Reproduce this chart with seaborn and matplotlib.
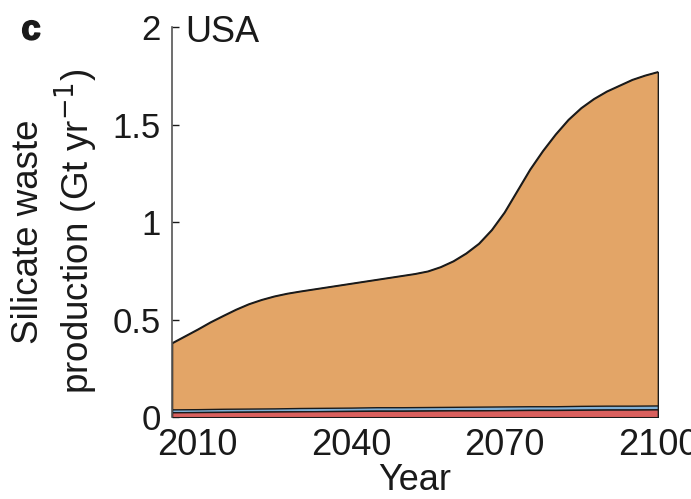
import numpy as np
import pandas as pd
import matplotlib
matplotlib.use("Agg")
import matplotlib.pyplot as plt
import matplotlib.patheffects as pe
import seaborn as sns


# top of the stack (total silicate waste, Gt/yr), read every 2.5 years
TOTAL_YEARS = [2005, 2007.5, 2010, 2012.5, 2015, 2017.5, 2020, 2022.5, 2025, 2027.5,
               2030, 2032.5, 2035, 2037.5, 2040, 2042.5, 2045, 2047.5, 2050, 2052.5,
               2055, 2057.5, 2060, 2062.5, 2065, 2067.5, 2070, 2072.5, 2075, 2077.5,
               2080, 2082.5, 2085, 2087.5, 2090, 2092.5, 2095, 2097.5, 2100]
TOTAL_WASTE = [0.38, 0.415, 0.45, 0.487, 0.52, 0.552, 0.58, 0.602, 0.62, 0.634,
               0.645, 0.655, 0.665, 0.675, 0.685, 0.695, 0.705, 0.715, 0.725, 0.735,
               0.748, 0.77, 0.80, 0.84, 0.89, 0.96, 1.05, 1.16, 1.27, 1.365,
               1.45, 1.525, 1.585, 1.632, 1.67, 1.70, 1.73, 1.752, 1.77]

# thin lower layers, read every 5 years
LAYER_YEARS = [2005, 2010, 2015, 2020, 2025, 2030, 2035, 2040, 2045, 2050,
               2055, 2060, 2065, 2070, 2075, 2080, 2085, 2090, 2095, 2100]
RED_LAYER = [0.025, 0.026, 0.027, 0.028, 0.029, 0.030, 0.031, 0.032, 0.033, 0.033,
             0.034, 0.035, 0.035, 0.036, 0.037, 0.037, 0.038, 0.039, 0.039, 0.040]
BLUE_LAYER = [0.015, 0.015, 0.016, 0.016, 0.016, 0.017, 0.017, 0.017, 0.018, 0.018,
              0.018, 0.018, 0.019, 0.019, 0.019, 0.019, 0.020, 0.020, 0.020, 0.020]

X_TICKS = [2010, 2040, 2070, 2100]
Y_TICKS = [0, 0.5, 1, 1.5, 2]
Y_TICK_LABELS = ["0", "0.5", "1", "1.5", "2"]

ORANGE = "#E3A567"
RED = "#D9605E"
BLUE = "#7FB0D6"
EDGE = "#1a1a1a"
TEXT_COLOR = "#1a1a1a"


total = pd.DataFrame({"year": TOTAL_YEARS, "total": TOTAL_WASTE})
layers = pd.DataFrame({"year": LAYER_YEARS, "red": RED_LAYER, "blue": BLUE_LAYER})
layers["red_blue"] = layers["red"] + layers["blue"]

sns.set_theme(style="ticks")
plt.rcParams["font.family"] = ["Liberation Sans", "DejaVu Sans"]

fig = plt.figure(figsize=(6.91, 4.99), dpi=100)
ax = fig.add_axes([0.249, 0.164, 0.703, 0.782])

# orange area from zero up to the total, lower layers drawn over it
ax.fill_between(total["year"], 0, total["total"],
                facecolor=ORANGE, edgecolor=EDGE, linewidth=1.0)
ax.fill_between(layers["year"], layers["red"], layers["red_blue"],
                facecolor=BLUE, edgecolor=EDGE, linewidth=1.0)
ax.fill_between(layers["year"], 0, layers["red"],
                facecolor=RED, edgecolor=EDGE, linewidth=1.0)
sns.lineplot(data=total, x="year", y="total", ax=ax, color=EDGE, linewidth=1.0)

ax.set_xlim(2005, 2100)
ax.set_ylim(0, 2)

ax.set_xticks(X_TICKS)
ax.set_xticklabels([str(t) for t in X_TICKS])
ax.set_yticks(Y_TICKS)
ax.set_yticklabels(Y_TICK_LABELS)

ax.tick_params(axis="x", length=0, labelsize=26, colors=TEXT_COLOR, pad=8)
ax.tick_params(axis="y", direction="in", length=5, width=1.0,
               labelsize=25, colors=TEXT_COLOR, pad=8)

ax.spines["left"].set_color("#555555")
ax.spines["left"].set_linewidth(1.2)
for side in ["top", "right", "bottom"]:
    ax.spines[side].set_visible(False)

ax.set_xlabel("Year", fontsize=26, color=TEXT_COLOR, labelpad=0)
ax.set_ylabel("Silicate waste\nproduction (Gt yr$^{-1}$)", fontsize=26.5,
              color=TEXT_COLOR, linespacing=1.18)
ax.yaxis.set_label_coords(-0.148, 0.475)

ax.text(0.027, 0.985, "USA", transform=ax.transAxes, fontsize=26,
        color=TEXT_COLOR, ha="left", va="center")
fig.text(0.045, 0.94, "c", fontsize=25, fontweight="bold",
         color=TEXT_COLOR, ha="center", va="center",
         path_effects=[pe.withStroke(linewidth=1.2, foreground=TEXT_COLOR)])

fig.savefig("out.png", dpi=100)
plt.close(fig)
